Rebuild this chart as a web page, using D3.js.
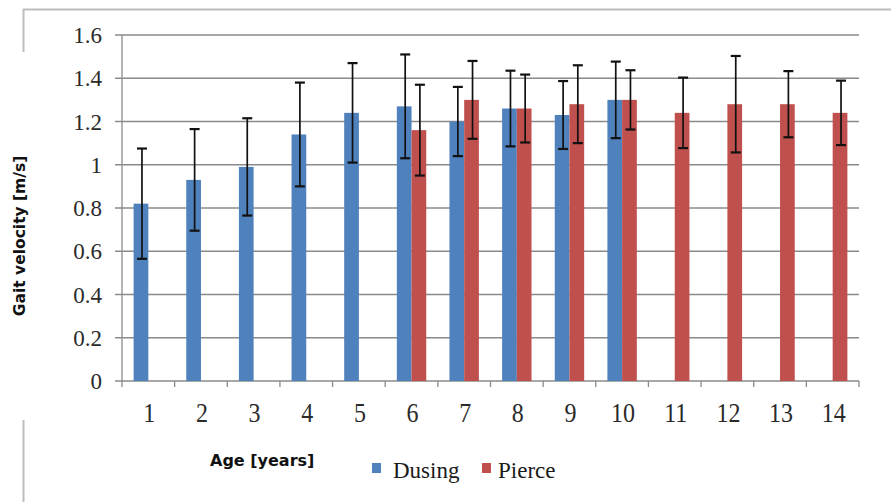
<!DOCTYPE html>
<html>
<head>
<meta charset="utf-8">
<script src="https://cdn.jsdelivr.net/npm/d3@7"></script>
<style>
  html, body { margin: 0; padding: 0; background: #fff; }
  svg { display: block; }
  .serif { font-family: "Liberation Serif", "DejaVu Serif", "Times New Roman", Times, serif; }
  .sansb { font-family: "DejaVu Sans", Verdana, sans-serif; font-weight: bold; }
</style>
</head>
<body>
<svg id="chart" width="891" height="502"></svg>
<script>
// ---- data ----
const categories = ["1","2","3","4","5","6","7","8","9","10","11","12","13","14"];
const seriesNames = ["Dusing", "Pierce"];
const dusing   = [0.82, 0.93, 0.99, 1.14, 1.24, 1.27, 1.20, 1.26, 1.23, 1.30, null, null, null, null];
const dusingSD = [0.255, 0.235, 0.225, 0.24, 0.23, 0.24, 0.16, 0.175, 0.157, 0.177, null, null, null, null];
const pierce   = [null, null, null, null, null, 1.16, 1.30, 1.26, 1.28, 1.30, 1.24, 1.28, 1.28, 1.24];
const pierceSD = [null, null, null, null, null, 0.21, 0.18, 0.157, 0.18, 0.137, 0.163, 0.223, 0.153, 0.149];
const yTicks = [0, 0.2, 0.4, 0.6, 0.8, 1, 1.2, 1.4, 1.6];
const colors = {Dusing: "#4F81BD", Pierce: "#C0504D"};

const svg = d3.select("#chart");

// ---- frame fragments ----
const frameColor = "#bdbdbd";
svg.append("line").attr("x1", 23).attr("x2", 891).attr("y1", 9.5).attr("y2", 9.5)
  .attr("stroke", frameColor).attr("stroke-width", 2);
svg.append("line").attr("x1", 23.5).attr("x2", 23.5).attr("y1", 9).attr("y2", 52)
  .attr("stroke", frameColor).attr("stroke-width", 2);
svg.append("line").attr("x1", 23.5).attr("x2", 23.5).attr("y1", 420).attr("y2", 502)
  .attr("stroke", frameColor).attr("stroke-width", 2);

// ---- scales ----
const plotL = 122, plotR = 859, plotT = 35, plotB = 381;
const x = d3.scaleBand().domain(categories).range([plotL, plotR]).padding(0);
const xs = d3.scaleBand().domain(seriesNames).range([0, x.bandwidth()]).paddingInner(0).paddingOuter(0.79);
const y = d3.scaleLinear().domain([0, 1.6]).range([plotB, plotT]);

const gridColor = "#8a8a8a";

// gridlines
svg.append("g").selectAll("line").data(yTicks.filter(d => d > 0)).join("line")
  .attr("x1", 115).attr("x2", plotR)
  .attr("y1", d => y(d)).attr("y2", d => y(d))
  .attr("stroke", gridColor).attr("stroke-width", 1.3);

// axis lines
svg.append("line").attr("x1", plotL).attr("x2", plotL).attr("y1", plotT).attr("y2", plotB)
  .attr("stroke", gridColor).attr("stroke-width", 1.3);
svg.append("line").attr("x1", 115).attr("x2", plotR).attr("y1", plotB).attr("y2", plotB)
  .attr("stroke", gridColor).attr("stroke-width", 1.3);

// x tick marks at category boundaries
const bounds = categories.map(c => x(c)).concat([plotR]);
svg.append("g").selectAll("line").data(bounds).join("line")
  .attr("x1", d => d).attr("x2", d => d).attr("y1", plotB).attr("y2", plotB + 6)
  .attr("stroke", gridColor).attr("stroke-width", 1.3);

// y tick labels
svg.append("g").selectAll("text").data(yTicks).join("text")
  .attr("class", "serif")
  .attr("x", 102).attr("y", d => y(d) + 8)
  .attr("text-anchor", "end")
  .attr("font-size", 23)
  .attr("fill", "#2a2a2a")
  .text(d => d3.format("")(d));

// x tick labels
svg.append("g").selectAll("text").data(categories).join("text")
  .attr("class", "serif")
  .attr("transform", d => `translate(${x(d) + x.bandwidth() / 2 + 1},422) scale(1,1.15)`)
  .attr("text-anchor", "middle")
  .attr("font-size", 24)
  .attr("fill", "#2a2a2a")
  .text(d => d);

// ---- bars ----
const rows = [];
categories.forEach((c, i) => {
  if (dusing[i] != null) rows.push({c, s: "Dusing", v: dusing[i], sd: dusingSD[i]});
  if (pierce[i] != null) rows.push({c, s: "Pierce", v: pierce[i], sd: pierceSD[i]});
});

svg.append("g").selectAll("rect").data(rows).join("rect")
  .attr("x", d => x(d.c) + xs(d.s))
  .attr("width", xs.bandwidth())
  .attr("y", d => y(d.v))
  .attr("height", d => y(0) - y(d.v))
  .attr("fill", d => colors[d.s]);

// error bars
const eb = svg.append("g").attr("stroke", "#111").attr("stroke-width", 1.7);
rows.forEach(d => {
  const cx = x(d.c) + xs(d.s) + xs.bandwidth() / 2 + 1;
  const y1 = y(d.v + d.sd), y2 = y(d.v - d.sd);
  eb.append("line").attr("x1", cx).attr("x2", cx).attr("y1", y1).attr("y2", y2);
  eb.append("line").attr("x1", cx - 5).attr("x2", cx + 5).attr("y1", y1).attr("y2", y1).attr("stroke-width", 2.2);
  eb.append("line").attr("x1", cx - 5).attr("x2", cx + 5).attr("y1", y2).attr("y2", y2).attr("stroke-width", 2.2);
});

// ---- axis titles ----
svg.append("text")
  .attr("class", "sansb")
  .attr("transform", "translate(25,236) rotate(-90)")
  .attr("text-anchor", "middle")
  .attr("font-size", 15.5)
  .attr("fill", "#111")
  .text("Gait velocity [m/s]");

svg.append("text")
  .attr("class", "sansb")
  .attr("x", 210).attr("y", 466)
  .attr("font-size", 16)
  .attr("fill", "#111")
  .text("Age [years]");

// ---- legend ----
const legendItems = [
  {name: "Dusing", sx: 372, tx: 393},
  {name: "Pierce", sx: 482, tx: 498}
];
const lg = svg.append("g");
lg.selectAll("rect").data(legendItems).join("rect")
  .attr("x", d => d.sx).attr("y", 463).attr("width", 9).attr("height", 10)
  .attr("fill", d => colors[d.name]);
lg.selectAll("text").data(legendItems).join("text")
  .attr("class", "serif")
  .attr("x", d => d.tx).attr("y", 478)
  .attr("font-size", 23)
  .attr("fill", "#1a1a1a")
  .text(d => d.name);
</script>
</body>
</html>
